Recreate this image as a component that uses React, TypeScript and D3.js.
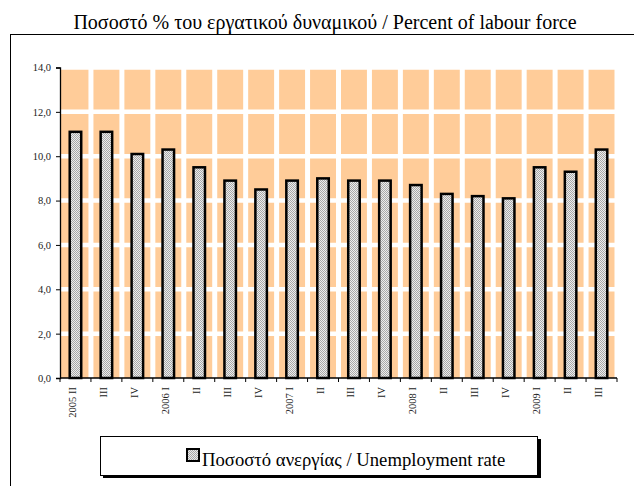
import * as d3 from "d3";
import React, { useRef, useEffect } from "react";

const quarters = ["2005 II", "III", "IV", "2006 I", "II", "III", "IV", "2007 I", "II", "III", "IV", "2008 I", "II", "III", "IV", "2009 I", "II", "III"];
const rates = [11.1, 11.1, 10.1, 10.3, 9.5, 8.9, 8.5, 8.9, 9.0, 8.9, 8.9, 8.7, 8.3, 8.2, 8.1, 9.5, 9.3, 10.3];
const yTicks = [0, 2, 4, 6, 8, 10, 12, 14];

const title = "Ποσοστό % του εργατικού δυναμικού / Percent of labour force";
const legendLabel = "Ποσοστό ανεργίας / Unemployment rate";

function App() {
    const ref = useRef<SVGSVGElement>(null);

    useEffect(() => {
        const svg = d3.select(ref.current);
        svg.selectAll("*").remove();

        const width = 634;
        const height = 486;
        const left = 60, right = 617, top = 67.5, bottom = 378;
        const font = "Liberation Serif, Times New Roman, DejaVu Serif, serif";

        const x = d3.scaleBand<string>()
            .domain(quarters.map((q, i) => i + ""))
            .range([left, right]);

        const y = d3.scaleLinear()
            .domain([0, 14])
            .range([bottom, top]);

        // checker fill for the bars
        const defs = svg.append("defs");
        const pat = defs.append("pattern")
            .attr("id", "dots")
            .attr("width", 2)
            .attr("height", 2)
            .attr("patternUnits", "userSpaceOnUse");
        pat.append("rect").attr("width", 2).attr("height", 2).attr("fill", "#ececec");
        pat.append("rect").attr("width", 1).attr("height", 1).attr("fill", "#a8a8a8");
        pat.append("rect").attr("x", 1).attr("y", 1).attr("width", 1).attr("height", 1).attr("fill", "#a8a8a8");

        svg.append("rect")
            .attr("width", width)
            .attr("height", height)
            .attr("fill", "#ffffff");

        // outer frame
        svg.append("rect")
            .attr("x", 10.5)
            .attr("y", 34.5)
            .attr("width", 700)
            .attr("height", 500)
            .attr("fill", "none")
            .attr("stroke", "#000")
            .attr("stroke-width", 1);

        svg.append("text")
            .attr("x", 325)
            .attr("y", 29)
            .attr("text-anchor", "middle")
            .style("font-family", font)
            .style("font-size", "20px")
            .text(title);

        // plot background
        svg.append("rect")
            .attr("x", left)
            .attr("y", top)
            .attr("width", right - left)
            .attr("height", bottom - top)
            .attr("fill", "#ffcc99");

        svg.append("g")
            .selectAll("line")
            .data(yTicks.slice(1))
            .enter()
            .append("line")
            .attr("x1", left)
            .attr("x2", right)
            .attr("y1", d => y(d))
            .attr("y2", d => y(d))
            .attr("stroke", "#fff")
            .attr("stroke-width", 4.5);

        svg.append("g")
            .selectAll("line")
            .data(d3.range(1, quarters.length + 1))
            .enter()
            .append("line")
            .attr("x1", d => left + d * x.step())
            .attr("x2", d => left + d * x.step())
            .attr("y1", top - 3)
            .attr("y2", bottom)
            .attr("stroke", "#fff")
            .attr("stroke-width", 5);

        const barW = 11.5;
        svg.append("g")
            .selectAll("rect")
            .data(rates)
            .enter()
            .append("rect")
            .attr("x", (d, i) => (x(i + "") as number) + x.bandwidth() / 2 - barW / 2)
            .attr("y", d => y(d))
            .attr("width", barW)
            .attr("height", d => bottom - y(d))
            .attr("fill", "url(#dots)")
            .attr("stroke", "#000")
            .attr("stroke-width", 2.5);

        // y axis
        const yAxis = svg.append("g")
            .attr("transform", `translate(${left},0)`)
            .call(d3.axisLeft(y).tickValues(yTicks).tickSize(4).tickPadding(5)
                .tickFormat(d => d3.format(".1f")(d as number).replace(".", ",")));
        yAxis.attr("font-family", null);
        yAxis.select(".domain").attr("stroke", "#000").attr("stroke-width", 1.3);
        yAxis.selectAll("text")
            .style("font-family", font)
            .style("font-size", "10.5px")
            .attr("fill", "#222");

        // x axis
        svg.append("line")
            .attr("x1", left)
            .attr("x2", right)
            .attr("y1", bottom)
            .attr("y2", bottom)
            .attr("stroke", "#000")
            .attr("stroke-width", 1.3);

        svg.append("g")
            .selectAll("line")
            .data(d3.range(0, quarters.length + 1))
            .enter()
            .append("line")
            .attr("x1", d => left + d * x.step())
            .attr("x2", d => left + d * x.step())
            .attr("y1", bottom)
            .attr("y2", bottom + 4)
            .attr("stroke", "#000");

        svg.append("g")
            .selectAll("text")
            .data(quarters)
            .enter()
            .append("text")
            .attr("transform", (d, i) => `translate(${(x(i + "") as number) + x.bandwidth() / 2 + 0.5},${bottom + 9}) rotate(-90)`)
            .attr("text-anchor", "end")
            .style("font-family", font)
            .style("font-size", "10.5px")
            .attr("fill", "#222")
            .text(d => d);

        // legend
        const lg = svg.append("g");
        lg.append("rect")
            .attr("x", 103)
            .attr("y", 439)
            .attr("width", 438)
            .attr("height", 39)
            .attr("fill", "#000");
        lg.append("rect")
            .attr("x", 100.5)
            .attr("y", 436.5)
            .attr("width", 437)
            .attr("height", 39)
            .attr("fill", "#fff")
            .attr("stroke", "#000")
            .attr("stroke-width", 1);
        lg.append("rect")
            .attr("x", 187)
            .attr("y", 449)
            .attr("width", 12)
            .attr("height", 12)
            .attr("fill", "url(#dots)")
            .attr("stroke", "#000")
            .attr("stroke-width", 2);
        lg.append("text")
            .attr("x", 202)
            .attr("y", 466)
            .style("font-family", font)
            .style("font-size", "18.7px")
            .text(legendLabel);

    }, []);

    return (
        <svg ref={ref} width={634} height={486}
            style={{ position: "fixed", left: 0, top: 0, display: "block" }} />
    );
}

export default App;
